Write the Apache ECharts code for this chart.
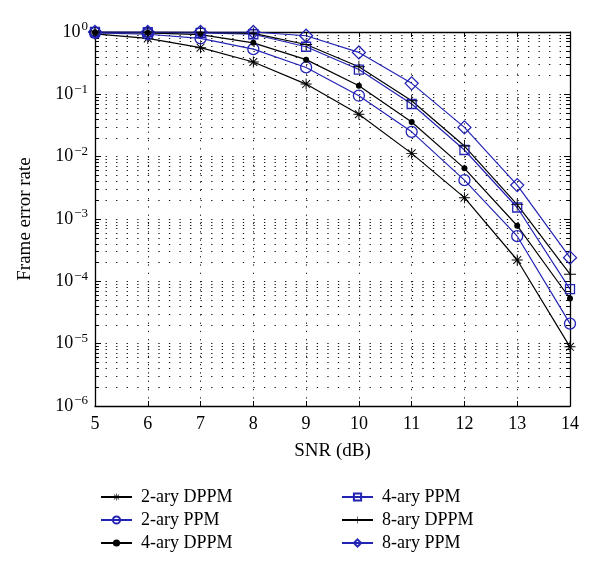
<!DOCTYPE html>
<html><head><meta charset="utf-8">
<script src="https://cdn.jsdelivr.net/npm/echarts@6/dist/echarts.min.js"></script>
<style>html,body{margin:0;padding:0;background:#fff}#c{width:600px;height:575px}</style>
</head><body><div id="c"></div>
<script>
const snr = [5, 6, 7, 8, 9, 10, 11, 12, 13, 14];
const names = ['2-ary DPPM', '2-ary PPM', '4-ary DPPM', '4-ary PPM', '8-ary DPPM', '8-ary PPM'];
const dppm2 = [0.93, 0.79, 0.56, 0.33, 0.146, 0.048, 0.0113, 0.0022, 2.2e-4, 8.9e-6];
const ppm2  = [0.97, 0.92, 0.79, 0.53, 0.27, 0.095, 0.025, 0.0042, 5.3e-4, 2.1e-5];
const dppm4 = [0.99, 0.97, 0.91, 0.67, 0.36, 0.137, 0.036, 0.0065, 7.8e-4, 5.3e-5];
const ppm4  = [1.0, 0.99, 0.97, 0.92, 0.58, 0.25, 0.07, 0.0128, 0.00153, 7.5e-5];
const dppm8 = [1.0, 1.0, 0.99, 0.95, 0.63, 0.277, 0.079, 0.0148, 0.0017, 1.3e-4];
const ppm8  = [1.0, 1.0, 1.0, 1.0, 0.87, 0.47, 0.15, 0.0295, 0.0035, 2.4e-4];
const yMinorValues = [];
for (let e = -6; e < 0; e++) for (let m = 2; m <= 9; m++) yMinorValues.push(m * Math.pow(10, e));

const BLK = '#000000', BLU = '#2323b4';
const FONT = '"Liberation Serif", "DejaVu Serif", serif';
const asterisk = 'path://M-0.7,-8 L0.7,-8 L0.7,8 L-0.7,8 Z M-8,-0.7 L8,-0.7 L8,0.7 L-8,0.7 Z M-6.2,-5.2 L-5.2,-6.2 L6.2,5.2 L5.2,6.2 Z M5.2,-6.2 L6.2,-5.2 L-5.2,6.2 L-6.2,5.2 Z';
const plus = 'path://M-0.6,-8 L0.6,-8 L0.6,8 L-0.6,8 Z M-8,-0.6 L8,-0.6 L8,0.6 L-8,0.6 Z';
const DOTS = [1.3, 9.26];

function mk(name, vals, color, symbol, size, hollow) {
  return {
    name, type: 'line', data: snr.map((x, i) => [x, vals[i]]),
    symbol, symbolSize: size, showSymbol: true,
    lineStyle: { color, width: 1.2 },
    itemStyle: hollow ? { color: 'rgba(0,0,0,0)', borderColor: color, borderWidth: 1.3 } : { color, borderWidth: 0 },
    emphasis: { disabled: true }, animation: false, z: 5
  };
}
const tickLen = 0.075;
const series = [
  mk(names[0], dppm2, BLK, asterisk, 11, false),
  mk(names[1], ppm2, BLU, 'circle', 11, true),
  mk(names[2], dppm4, BLK, 'circle', 6, false),
  mk(names[3], ppm4, BLU, 'rect', 9, true),
  mk(names[4], dppm8, BLK, plus, 12, false),
  mk(names[5], ppm8, BLU, 'diamond', 13, true),
  {
    type: 'line', data: [], silent: true, animation: false, z: 1,
    markLine: {
      silent: true, precision: 12, symbol: ['none', 'none'], label: { show: false }, animation: false,
      lineStyle: { color: '#111', type: DOTS, width: 1.1 },
      data: yMinorValues.map(v => ({ yAxis: v }))
    }
  },
  {
    type: 'line', data: [], silent: true, animation: false, z: 3,
    markLine: {
      silent: true, precision: 12, symbol: ['none', 'none'], label: { show: false }, animation: false,
      lineStyle: { color: '#000', type: 'solid', width: 1 },
      data: yMinorValues.flatMap(v => [
        [{ coord: [5, v] }, { coord: [5 + tickLen, v] }],
        [{ coord: [14 - tickLen, v] }, { coord: [14, v] }]
      ])
    }
  }
];

const sup = { fontSize: 13, fontFamily: FONT, color: '#000', padding: [0, 0, 10, 1] };
const chart = echarts.init(document.getElementById('c'));
chart.setOption({
  animation: false,
  grid: { left: 95, right: 30, top: 32, height: 374 },
  xAxis: [{
    type: 'value', min: 5, max: 14, interval: 1,
    name: 'SNR (dB)', nameLocation: 'middle', nameGap: 36,
    nameTextStyle: { fontFamily: FONT, fontSize: 19, color: '#000' },
    axisLine: { lineStyle: { color: '#000', width: 1.3 } },
    axisTick: { inside: true, length: 5, lineStyle: { color: '#000' } },
    axisLabel: { fontFamily: FONT, fontSize: 18, color: '#000', margin: 9 },
    splitLine: { show: true, lineStyle: { color: '#222', type: [1.3, 7] } }
  }, {
    type: 'value', min: 5, max: 14, interval: 1, position: 'top',
    axisLine: { show: true, lineStyle: { color: '#000', width: 1.3 } },
    axisTick: { inside: true, length: 5, lineStyle: { color: '#000' } },
    axisLabel: { show: false }, splitLine: { show: false }
  }],
  yAxis: [{
    type: 'log', logBase: 10, min: 1e-6, max: 1, splitNumber: 6,
    name: 'Frame error rate', nameLocation: 'middle', nameGap: 60,
    nameTextStyle: { fontFamily: FONT, fontSize: 19, color: '#000' },
    axisLine: { show: true, lineStyle: { color: '#000', width: 1.3 } },
    axisTick: { inside: true, length: 6, lineStyle: { color: '#000' } },
    axisLabel: {
      margin: 7,
      formatter: v => {
        const e = Math.round(Math.log10(v));
        return '{b|10}{s|' + (e < 0 ? '\u2212' + (-e) : e) + '}';
      },
      rich: { b: { fontSize: 18, fontFamily: FONT, color: '#000' }, s: sup }
    },
    splitLine: { show: true, lineStyle: { color: '#111', type: DOTS, width: 1.1 } }
  }, {
    type: 'log', logBase: 10, min: 1e-6, max: 1, splitNumber: 6, position: 'right',
    axisLine: { show: true, lineStyle: { color: '#000', width: 1.3 } },
    axisTick: { inside: true, length: 6, lineStyle: { color: '#000' } },
    axisLabel: { show: false }, splitLine: { show: false }
  }],
  legend: [{
    data: names.slice(0, 3), orient: 'vertical', left: 95, top: 483, itemGap: 5,
    itemWidth: 31, itemHeight: 9,
    textStyle: { fontFamily: FONT, fontSize: 18, color: '#000', padding: [0, 0, 0, 4] }
  }, {
    data: names.slice(3), orient: 'vertical', left: 336, top: 483, itemGap: 5,
    itemWidth: 31, itemHeight: 9,
    textStyle: { fontFamily: FONT, fontSize: 18, color: '#000', padding: [0, 0, 0, 4] }
  }],
  series
});
</script></body></html>
